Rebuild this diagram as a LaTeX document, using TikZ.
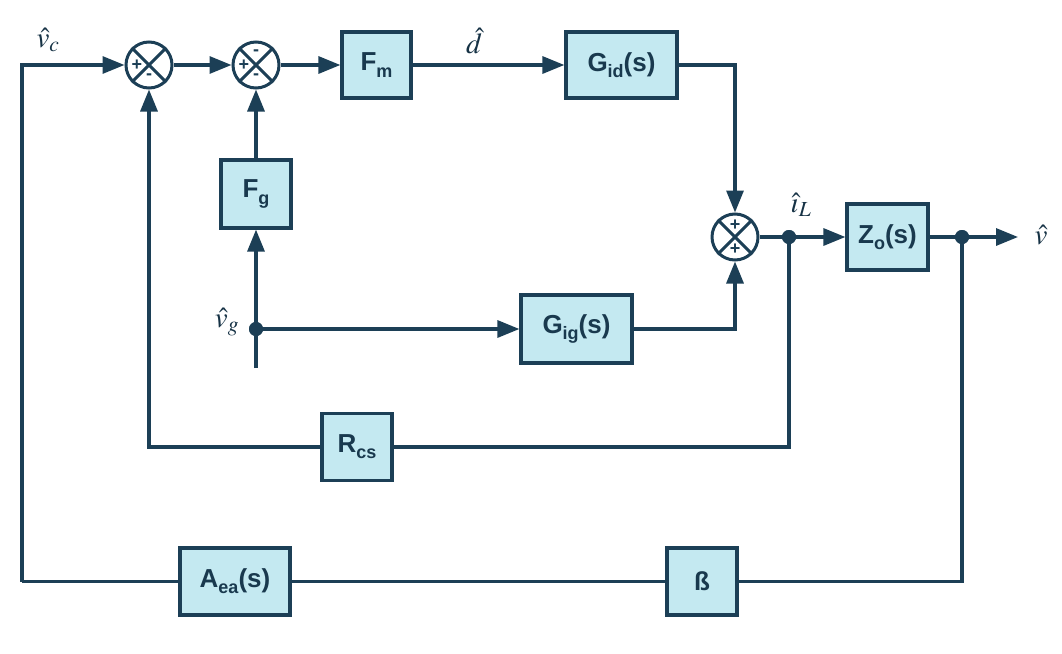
\documentclass[tikz,border=0pt]{standalone}
\usepackage{mathptmx}
\usepackage{fontspec}
\setmainfont{Liberation Sans}
\usetikzlibrary{arrows.meta}
\definecolor{ln}{HTML}{1C3F56}
\definecolor{bx}{HTML}{C4E9F1}
\newcommand{\bsub}[1]{\raisebox{-0.45ex}{\fontsize{18}{18}\selectfont #1}}
\tikzset{
  blk/.style={draw=ln,fill=bx,line width=3.2pt,inner sep=0pt,font=\fontsize{26}{26}\selectfont\bfseries,text=ln!90!black},
  sumj/.style={draw=ln,line width=3pt,circle,minimum size=46pt,inner sep=0pt},
  wire/.style={draw=ln,line width=3.2pt},
  arr/.style={wire,-{Triangle[length=22pt,width=17pt]}},
  dotn/.style={circle,fill=ln,minimum size=14pt,inner sep=0pt},
  sig/.style={text=ln!80!black,font=\fontsize{29}{29}\selectfont\boldmath},
  pm/.style={text=ln,font=\fontsize{18}{18}\selectfont\bfseries,inner sep=0pt}
}
\begin{document}
\begin{tikzpicture}[x=1pt,y=-1pt]
\useasboundingbox (0,0) rectangle (1062,653);
% summing junctions
\node[sumj] (s1) at (149,65) {};
\node[sumj] (s2) at (256,65) {};
\node[sumj] (s3) at (735,237) {};
\foreach \s in {s1,s2,s3}{
  \draw[ln,line width=3pt] (\s.45) -- (\s.225) (\s.135) -- (\s.315);
}
\node[pm] at ([xshift=-12pt]s1.center) {+};
\node[pm] at ([yshift=-12pt]s1.center) {-};
\node[pm] at ([xshift=-12pt]s2.center) {+};
\node[pm] at ([yshift=12pt]s2.center) {-};
\node[pm] at ([yshift=-12pt]s2.center) {-};
\node[pm] at ([yshift=12pt]s3.center) {+};
\node[pm] at ([yshift=-12pt]s3.center) {+};
% blocks
\node[blk,minimum width=69pt,minimum height=66pt] (fm) at (376.5,65) {F\bsub{m}};
\node[blk,minimum width=111pt,minimum height=66pt] (gid) at (621.5,65) {G\bsub{id}(s)};
\node[blk,minimum width=70pt,minimum height=68pt] (fg) at (256,194) {F\bsub{g}};
\node[blk,minimum width=111pt,minimum height=68pt] (gig) at (576.5,329) {G\bsub{ig}(s)};
\node[blk,minimum width=81pt,minimum height=66pt] (zo) at (887.5,237) {Z\bsub{o}(s)};
\node[blk,minimum width=70pt,minimum height=67pt] (rcs) at (357,447) {R\bsub{cs}};
\node[blk,minimum width=110pt,minimum height=67pt] (aea) at (235,581.5) {A\bsub{ea}(s)};
\node[blk,minimum width=70pt,minimum height=67pt] (beta) at (702,581.5) {ß};
% dots and coordinates
\node[dotn] (d1) at (789,237) {};
\node[dotn] (d2) at (962,237) {};
\node[dotn] (dg) at (256,329) {};
\coordinate (out) at (1018,237);
\coordinate (vgb) at (256,368);
\coordinate (lt) at (22,65);
\coordinate (lb) at (22,581.5);
% labels
\node[sig] at (48,40) {$\hat{v}_c$};
\node[sig] at (474,41) {$\hat{d}$};
\node[sig] at (227,322) {$\hat{v}_g$};
\node[sig] at (801,205) {$\hat{\imath}_L$};
\node[sig] at (1041,235) {$\hat{v}$};
% connectors
\draw[arr] (lb) -- (lt) -- (s1.west);
\draw[arr] (s1.east) -- (s2.west);
\draw[arr] (s2.east) -- (fm.west);
\draw[arr] (fm.east) -- (gid.west);
\draw[arr] (gid.east) -| (s3.north);
\draw[arr] (fg.north) -- (s2.south);
\draw[arr] (vgb) -- (fg.south);
\draw[arr] (dg.center) -- (gig.west);
\draw[arr] (gig.east) -| (s3.south);
\draw[wire] (s3.east) -- (d1.center);
\draw[arr] (d1.center) -- (zo.west);
\draw[wire] (zo.east) -- (d2.center);
\draw[arr] (d2.center) -- (out);
\draw[wire] (d1.center) |- (rcs.east);
\draw[arr] (rcs.west) -| (s1.south);
\draw[wire] (d2.center) |- (beta.east);
\draw[wire] (beta.west) -- (aea.east);
\draw[wire] (aea.west) -- (lb);
\node[dotn] at (d1) {};
\node[dotn] at (d2) {};
\node[dotn] at (dg) {};
\end{tikzpicture}
\end{document}
